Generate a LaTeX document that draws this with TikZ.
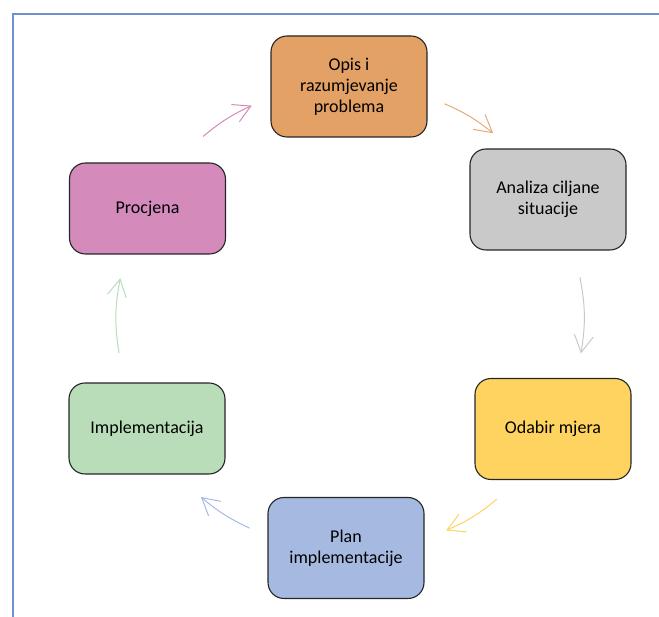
\documentclass[tikz,border=0pt]{standalone}
\usepackage{fontspec}
\setmainfont{Carlito}
\usetikzlibrary{arrows.meta}

\definecolor{framecol}{HTML}{6F8FCF}
\definecolor{opiscol}{HTML}{E3A166}
\definecolor{analizacol}{HTML}{C9C9C9}
\definecolor{odabircol}{HTML}{FFD35F}
\definecolor{plancol}{HTML}{A6BAE1}
\definecolor{implcol}{HTML}{B9DDB8}
\definecolor{procjenacol}{HTML}{D48ABB}

\begin{document}
\begin{tikzpicture}[x=1pt, y=1pt,
        stagebox/.style={draw=black!85, line width=1.1pt, rounded corners=16pt,
            minimum width=156pt, minimum height=101pt, inner sep=0pt, align=center,
            font=\fontsize{18}{21}\selectfont},
        shortbox/.style={stagebox, minimum height=91pt},
        cyclearrow/.style={line width=1pt, draw=#1,
            -{Straight Barb[length=17pt, width=19pt, line width=1pt]}}
    ]
            \useasboundingbox (0,0) rectangle (659,617);
            \draw[framecol, line width=1.5pt] (13,0) -- (13,603) -- (659,603);

            \node[stagebox, fill=opiscol] (opis) at (349,530.5) {Opis i\\razumjevanje\\problema};
            \node[stagebox, fill=analizacol] (analiza) at (548,417.5) {Analiza ciljane\\situacije};
            \node[stagebox, fill=odabircol] (odabir) at (553,188) {Odabir mjera};
            \node[stagebox, fill=plancol] (plan) at (346,69) {Plan\\implementacije};
            \node[shortbox, fill=implcol] (impl) at (147,188.5) {Implementacija};
            \node[shortbox, fill=procjenacol] (procjena) at (147.5,408.5) {Procjena};

            % arcs of the cycle
            \path (opis.center) to[bend left=30] coordinate[pos=.40] (a1) coordinate[pos=.65] (b1) (analiza.center);
            \path (analiza.center) to[bend left=30] coordinate[pos=.34] (a2) coordinate[pos=.675] (b2) (odabir.center);
            \path (odabir.center) to[bend left=31] coordinate[pos=.35] (a3) coordinate[pos=.60] (b3) (plan.center);
            \path (plan.center) to[bend left=30] coordinate[pos=.40] (a4) coordinate[pos=.65] (b4) (impl.center);
            \path (impl.center) to[bend left=29] coordinate[pos=.34] (a5) coordinate[pos=.685] (b5) (procjena.center);
            \path (procjena.center) to[bend left=31] coordinate[pos=.36] (a6) coordinate[pos=.605] (b6) (opis.center);

            \draw[cyclearrow=opiscol!90] (a1) to[bend left=7.5] (b1);
            \draw[cyclearrow=analizacol] (a2) to[bend left=10] (b2);
            \draw[cyclearrow=odabircol] (a3) to[bend left=8] (b3);
            \draw[cyclearrow=plancol] (a4) to[bend left=7.5] (b4);
            \draw[cyclearrow=implcol] (a5) to[bend left=10] (b5);
            \draw[cyclearrow=procjenacol] (a6) to[bend left=7.5] (b6);
        \end{tikzpicture}
\end{document}
